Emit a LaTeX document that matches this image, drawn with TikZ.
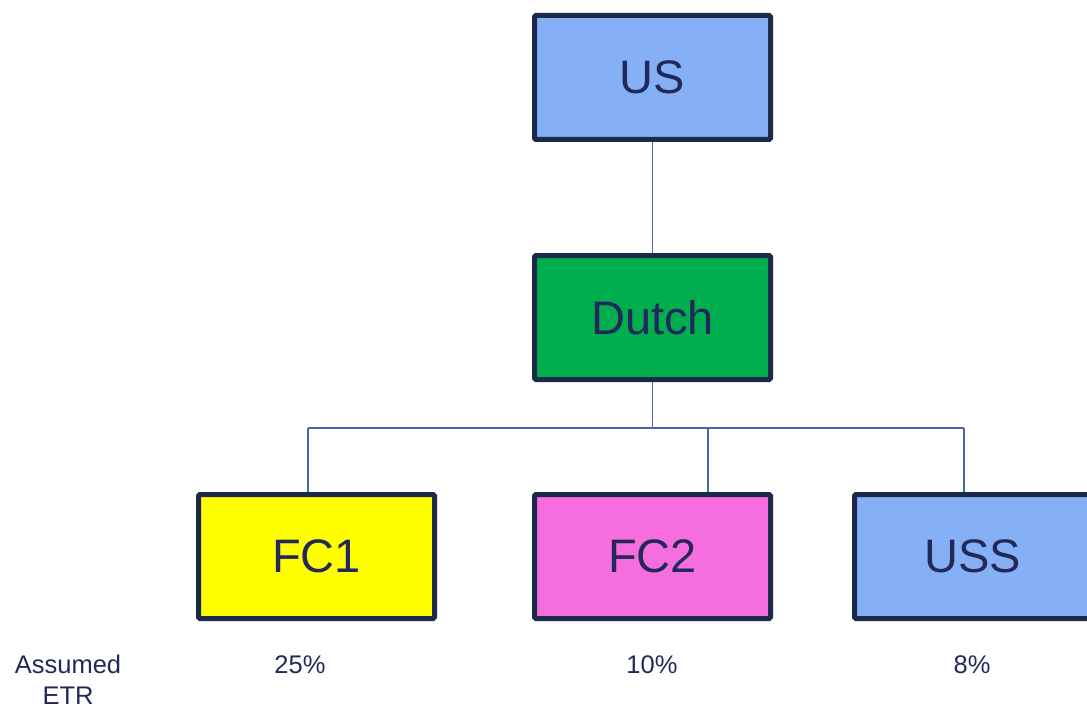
\documentclass[tikz,border=0pt]{standalone}
\usepackage{fontspec}
\setmainfont{Liberation Sans}
\begin{document}
\begin{tikzpicture}[x=1pt,y=-1pt,
  entity/.style={draw=navy, line width=5pt, rounded corners=1.5pt, inner sep=0pt,
    minimum width=236pt, minimum height=124pt, text=inkblue,
    font=\fontsize{47}{50}\selectfont},
  link/.style={draw=linkblue, line width=1.6pt},
  rate/.style={text=inkblue, font=\fontsize{25.5}{31}\selectfont, inner sep=0pt, align=center}]
\definecolor{navy}{HTML}{1C2A4A}
\definecolor{inkblue}{HTML}{22295A}
\definecolor{linkblue}{HTML}{4A66AE}
\definecolor{usblue}{HTML}{85B0F5}
\definecolor{dutchgreen}{HTML}{00AD4F}
\definecolor{fcyellow}{HTML}{FFFF00}
\definecolor{fcpink}{HTML}{F56DDF}
\useasboundingbox (0,0) rectangle (1087,706);
\clip (0,0) rectangle (1087,706);

% entities
\node[entity, fill=usblue]     (us)    at (652.5,77.5)  {US};
\node[entity, fill=dutchgreen] (dutch) at (652.5,317.5) {Dutch};
\node[entity, fill=fcyellow]   (fc1)   at (316.5,556.5) {FC1};
\node[entity, fill=fcpink]     (fc2)   at (652.5,556.5) {FC2};
\node[entity, fill=usblue]     (uss)   at (972.5,556.5) {USS};

% ownership bus
\coordinate (busL) at (308,428);
\coordinate (busM) at (708,428);
\coordinate (busR) at (964,428);

\begin{scope}[on background layer/.try]
\draw[link] (us.south) -- (dutch.north);
\draw[link] (dutch.south) -- (dutch.south |- busL);
\draw[link] (busL) -- (busR);
\draw[link] (busL) -- (busL |- fc1.north);
\draw[link] (busM) -- (busM |- fc2.north);
\draw[link] (busR) -- (busR |- uss.north);
\end{scope}

% effective tax rates
\node[rate] (etr)  at (68,680) {Assumed\\ETR};
\node[rate] (r1)   at (300,665) {25\%};
\node[rate] (r2)   at (652,665) {10\%};
\node[rate] (r3)   at (972,665) {8\%};
\end{tikzpicture}
\end{document}
